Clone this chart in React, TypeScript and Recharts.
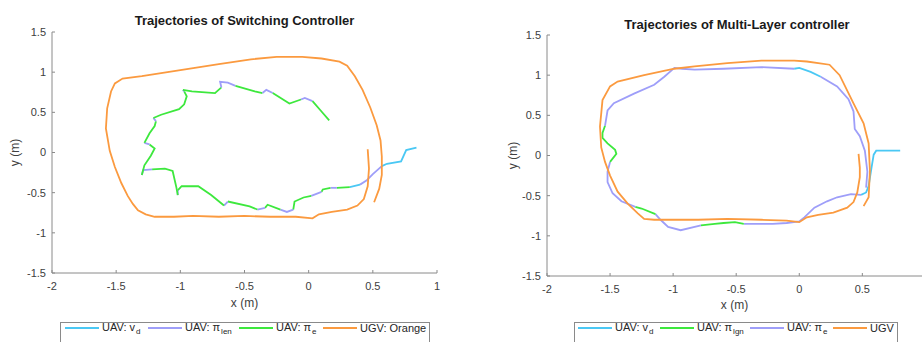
import { ScatterChart, Scatter, XAxis, YAxis } from "recharts";

const CYAN = "#4ac8f4";
const PURPLE = "#9e9ef9";
const GREEN = "#3de83d";
const ORANGE = "#fb9a3f";
const AXIS = "#8a8a8a";
const TEXT = "#404040";
const FONT = '"Liberation Sans", Arial, Helvetica, sans-serif';

const xTicksLeft = [-2, -1.5, -1, -0.5, 0, 0.5, 1];
const xTicksRight = [-2, -1.5, -1, -0.5, 0, 0.5];
const yTicks = [-1.5, -1, -0.5, 0, 0.5, 1, 1.5];

// legend labels: [prefix, subscript, color key]
const leftLegend: [string, string, string][] = [
  ["UAV: v", "d", "c"],
  ["UAV: π", "len", "p"],
  ["UAV: π", "e", "g"],
  ["UGV: Orange", "", "o"],
];
const rightLegend: [string, string, string][] = [
  ["UAV: v", "d", "c"],
  ["UAV: π", "lgn", "g"],
  ["UAV: π", "e", "p"],
  ["UGV", "", "o"],
];

// UGV tracks, [x, y] in metres
const leftUgv: [number, number][] = [
  [0.46, 0.04], [0.47, -0.2], [0.46, -0.42], [0.43, -0.58], [0.38, -0.66], [0.3, -0.71],
  [0.18, -0.74], [0.08, -0.77], [0.03, -0.82], [-0.1, -0.8], [-0.3, -0.8], [-0.5, -0.79],
  [-0.7, -0.8], [-0.9, -0.79], [-1.05, -0.8], [-1.2, -0.8], [-1.27, -0.77], [-1.33, -0.72],
  [-1.37, -0.64], [-1.41, -0.54], [-1.46, -0.38], [-1.51, -0.18], [-1.55, 0.02], [-1.58, 0.3],
  [-1.57, 0.55], [-1.54, 0.76], [-1.51, 0.86], [-1.45, 0.92], [-1.3, 0.95], [-1.1, 1.0],
  [-0.9, 1.05], [-0.7, 1.1], [-0.45, 1.16], [-0.25, 1.19], [-0.05, 1.19], [0.1, 1.17],
  [0.24, 1.13], [0.3, 1.08], [0.36, 0.95], [0.42, 0.78], [0.48, 0.56], [0.53, 0.34],
  [0.56, 0.15], [0.57, -0.05], [0.57, -0.28], [0.55, -0.45], [0.51, -0.62],
];
const rightUgv: [number, number][] = [
  [0.47, 0.02], [0.48, -0.15], [0.48, -0.27], [0.46, -0.46], [0.43, -0.58], [0.38, -0.65],
  [0.27, -0.71], [0.15, -0.74], [0.06, -0.77], [0.0, -0.83], [-0.1, -0.81], [-0.3, -0.8],
  [-0.57, -0.79], [-0.8, -0.8], [-1.0, -0.8], [-1.15, -0.8], [-1.23, -0.79], [-1.28, -0.72],
  [-1.36, -0.6], [-1.44, -0.45], [-1.5, -0.25], [-1.54, -0.08], [-1.57, 0.1], [-1.58, 0.36],
  [-1.56, 0.69], [-1.5, 0.86], [-1.44, 0.92], [-1.23, 1.0], [-0.99, 1.08], [-0.83, 1.11],
  [-0.57, 1.15], [-0.3, 1.18], [-0.04, 1.18], [0.06, 1.17], [0.24, 1.13], [0.32, 1.0],
  [0.43, 0.65], [0.51, 0.4], [0.55, 0.15], [0.56, -0.19], [0.55, -0.52], [0.51, -0.63],
];

// UAV tracks, [x, y, mode of the step to the next point]  c = v_d, p = purple mode, g = green mode
const leftUav: [number, number, string][] = [
  [0.84, 0.06, "c"], [0.76, 0.03, "c"], [0.72, -0.11, "c"], [0.61, -0.14, "c"],
  [0.57, -0.17, "p"], [0.5, -0.27, "p"], [0.45, -0.35, "p"], [0.4, -0.4, "c"],
  [0.32, -0.43, "g"], [0.22, -0.44, "p"], [0.17, -0.44, "g"], [0.11, -0.46, "g"],
  [0.1, -0.49, "p"], [0.02, -0.54, "g"], [-0.04, -0.56, "g"], [-0.11, -0.61, "g"],
  [-0.12, -0.71, "p"], [-0.17, -0.74, "p"], [-0.22, -0.71, "g"], [-0.32, -0.65, "g"],
  [-0.34, -0.69, "p"], [-0.4, -0.71, "g"], [-0.46, -0.67, "g"], [-0.63, -0.61, "p"],
  [-0.66, -0.66, "g"], [-0.76, -0.53, "g"], [-0.86, -0.42, "g"], [-0.99, -0.42, "g"],
  [-1.02, -0.47, "p"], [-1.02, -0.53, "g"], [-1.03, -0.44, "g"], [-1.06, -0.23, "g"],
  [-1.12, -0.2, "g"], [-1.22, -0.21, "p"], [-1.29, -0.22, "p"], [-1.3, -0.28, "g"],
  [-1.28, -0.16, "g"], [-1.23, -0.04, "g"], [-1.2, 0.05, "g"], [-1.24, 0.1, "p"],
  [-1.28, 0.12, "g"], [-1.24, 0.24, "g"], [-1.2, 0.33, "g"], [-1.19, 0.39, "p"],
  [-1.21, 0.43, "g"], [-1.15, 0.47, "g"], [-1.01, 0.54, "g"], [-0.97, 0.6, "g"],
  [-0.95, 0.7, "g"], [-0.97, 0.76, "p"], [-0.98, 0.78, "g"], [-0.91, 0.76, "g"],
  [-0.73, 0.74, "g"], [-0.68, 0.81, "p"], [-0.69, 0.88, "p"], [-0.63, 0.87, "p"],
  [-0.57, 0.83, "g"], [-0.42, 0.76, "g"], [-0.36, 0.74, "p"], [-0.33, 0.78, "p"],
  [-0.28, 0.74, "g"], [-0.15, 0.61, "g"], [-0.06, 0.66, "p"], [-0.03, 0.68, "p"],
  [0.03, 0.64, "g"], [0.1, 0.51, "g"], [0.16, 0.4, "g"],
];
const rightUav: [number, number, string][] = [
  [0.8, 0.06, "c"], [0.61, 0.06, "c"], [0.59, 0.01, "c"], [0.57, -0.18, "c"],
  [0.55, -0.38, "c"], [0.53, -0.46, "c"], [0.49, -0.49, "p"], [0.41, -0.48, "p"],
  [0.3, -0.52, "p"], [0.22, -0.57, "p"], [0.12, -0.65, "p"], [0.04, -0.77, "p"],
  [0.0, -0.82, "p"], [-0.1, -0.84, "p"], [-0.21, -0.85, "p"], [-0.33, -0.85, "p"],
  [-0.44, -0.85, "g"], [-0.51, -0.83, "g"], [-0.6, -0.84, "g"], [-0.67, -0.85, "g"],
  [-0.78, -0.87, "p"], [-0.94, -0.93, "p"], [-1.04, -0.89, "p"], [-1.1, -0.8, "p"],
  [-1.14, -0.73, "g"], [-1.25, -0.66, "g"], [-1.3, -0.64, "p"], [-1.41, -0.57, "p"],
  [-1.48, -0.47, "p"], [-1.52, -0.33, "p"], [-1.52, -0.2, "p"], [-1.5, -0.08, "g"],
  [-1.45, 0.02, "g"], [-1.46, 0.07, "g"], [-1.52, 0.15, "g"], [-1.56, 0.22, "g"],
  [-1.56, 0.28, "g"], [-1.54, 0.37, "p"], [-1.52, 0.56, "p"], [-1.47, 0.65, "p"],
  [-1.31, 0.77, "p"], [-1.15, 0.88, "p"], [-1.07, 0.98, "p"], [-0.99, 1.09, "p"],
  [-0.93, 1.08, "p"], [-0.83, 1.07, "p"], [-0.6, 1.08, "p"], [-0.3, 1.1, "p"],
  [-0.04, 1.08, "c"], [0.0, 1.09, "c"], [0.09, 1.04, "c"], [0.17, 0.98, "p"],
  [0.3, 0.86, "p"], [0.39, 0.7, "p"], [0.43, 0.55, "p"], [0.44, 0.33, "p"],
  [0.48, 0.24, "p"], [0.52, 0.06, "p"], [0.54, -0.2, "p"], [0.53, -0.4, "p"],
];

const colors: Record<string, string> = { c: CYAN, p: PURPLE, g: GREEN, o: ORANGE };

type Pt = { x: number; y: number };

// split a track into runs of the same mode; neighbouring runs share their joint point
function toSegments(path: [number, number, string][]) {
  const segs: { mode: string; pts: Pt[] }[] = [];
  for (let i = 0; i < path.length - 1; i++) {
    const [x0, y0, m] = path[i];
    const [x1, y1] = path[i + 1];
    const last = segs[segs.length - 1];
    if (last && last.mode === m) last.pts.push({ x: x1, y: y1 });
    else segs.push({ mode: m, pts: [{ x: x0, y: y0 }, { x: x1, y: y1 }] });
  }
  return segs;
}

const noDot = () => <g />;

type PanelProps = {
  left: number;
  top: number;
  right: number;
  yAxisWidth: number;
  yLabelOffset: number;
  xLabelOffset: number;
  xDomain: [number, number];
  xTicks: number[];
  uav: [number, number, string][];
  ugv: [number, number][];
};

function Panel({ left, top, right, yAxisWidth, yLabelOffset, xLabelOffset, xDomain, xTicks, uav, ugv }: PanelProps) {
  const segs = toSegments(uav);
  const ugvData = ugv.map(([x, y]) => ({ x, y }));
  const tickStyle = { fill: TEXT, fontSize: 11, fontFamily: FONT };
  return (
    <div style={{ position: "absolute", left, top: 0 }}>
      <ScatterChart width={461} height={342} margin={{ top, right, bottom: 342 - top - 241 - 40, left: 0 }}>
        <XAxis
          type="number"
          dataKey="x"
          domain={xDomain}
          ticks={xTicks}
          allowDataOverflow
          height={40}
          tick={tickStyle}
          tickSize={-3}
          tickMargin={12}
          axisLine={{ stroke: AXIS }}
          tickLine={{ stroke: AXIS }}
          label={{ value: "x (m)", position: "insideBottom", offset: xLabelOffset, fill: TEXT, fontSize: 12, fontFamily: FONT }}
        />
        <YAxis
          type="number"
          dataKey="y"
          domain={[-1.5, 1.5]}
          ticks={yTicks}
          allowDataOverflow
          width={yAxisWidth}
          tick={tickStyle}
          tickSize={-3}
          tickMargin={9}
          axisLine={{ stroke: AXIS }}
          tickLine={{ stroke: AXIS }}
          label={{
            value: "y (m)",
            angle: -90,
            position: "insideLeft",
            offset: yLabelOffset,
            fill: TEXT,
            fontSize: 12,
            fontFamily: FONT,
            style: { textAnchor: "middle" },
          }}
        />
        {segs.map((s, i) => (
          <Scatter
            key={i}
            data={s.pts}
            fill={colors[s.mode]}
            line={{ stroke: colors[s.mode], strokeWidth: 1.8 }}
            shape={noDot}
            isAnimationActive={false}
          />
        ))}
        <Scatter
          data={ugvData}
          fill={ORANGE}
          line={{ stroke: ORANGE, strokeWidth: 1.8 }}
          shape={noDot}
          isAnimationActive={false}
        />
      </ScatterChart>
    </div>
  );
}

function LegendBox({ left, width, offsets, items }: { left: number; width: number; offsets: number[]; items: [string, string, string][] }) {
  return (
    <div
      style={{
        position: "absolute",
        left,
        top: 322,
        width,
        height: 24,
        border: `1px solid ${AXIS}`,
        boxSizing: "border-box",
        background: "#fff",
        fontFamily: FONT,
        fontSize: 11,
        color: "#262626",
      }}
    >
      {items.map(([label, sub, c], i) => (
        <div
          key={label + sub}
          style={{ position: "absolute", left: offsets[i], top: -1, height: 12, display: "flex", alignItems: "center", whiteSpace: "nowrap" }}
        >
          <div style={{ width: 34, height: 1.6, background: colors[c], marginRight: 3 }} />
          <span style={{ lineHeight: "12px" }}>
            {label}
            {sub && <span style={{ fontSize: 8, position: "relative", top: 3, marginLeft: 1 }}>{sub}</span>}
          </span>
        </div>
      ))}
    </div>
  );
}

const titleStyle = {
  position: "absolute" as const,
  fontFamily: FONT,
  fontWeight: "bold" as const,
  fontSize: 13,
  lineHeight: "14px",
  color: "#1a1a1a",
  textAlign: "center" as const,
  whiteSpace: "nowrap" as const,
};

export default function App() {
  return (
    <div style={{ position: "absolute", left: 0, top: 0, width: 922, height: 342, overflow: "hidden", background: "#fff" }}>
      <Panel
        left={0}
        top={32}
        right={24}
        yAxisWidth={52}
        yLabelOffset={15}
        xLabelOffset={6}
        xDomain={[-2, 1]}
        xTicks={xTicksLeft}
        uav={leftUav}
        ugv={leftUgv}
      />
      <Panel
        left={461}
        top={35}
        right={0}
        yAxisWidth={86}
        yLabelOffset={52}
        xLabelOffset={7}
        xDomain={[-2, 0.973]}
        xTicks={xTicksRight}
        uav={rightUav}
        ugv={rightUgv}
      />
      <div style={{ ...titleStyle, left: 52, width: 385, top: 14 }}>Trajectories of Switching Controller</div>
      <div style={{ ...titleStyle, left: 547, width: 380, top: 18 }}>Trajectories of Multi-Layer controller</div>
      <LegendBox left={60} width={370} offsets={[4, 87, 178, 262]} items={leftLegend} />
      <LegendBox left={574} width={324} offsets={[3, 85, 175, 258]} items={rightLegend} />
    </div>
  );
}
